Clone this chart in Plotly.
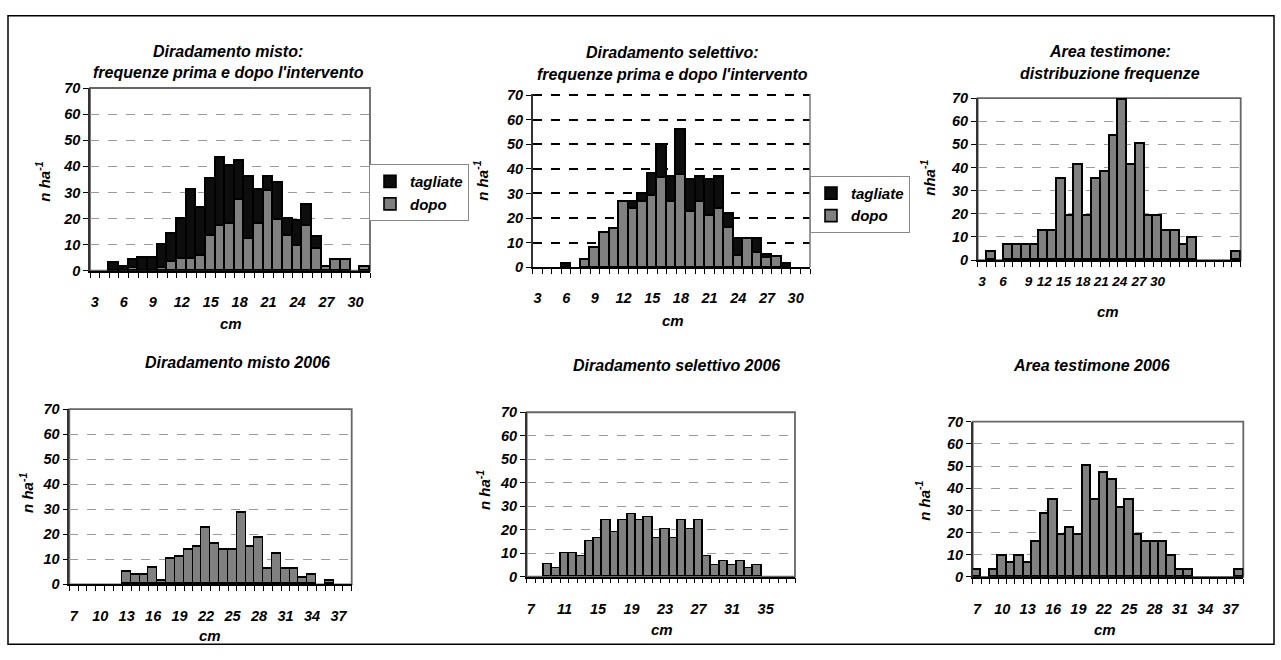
import plotly.graph_objects as go

W, H = 1281, 660

# ---------------- data ----------------
p1_classes = list(range(3, 32))
p1_dopo = [0, 0, 0, 0, 1, 0, 0, 1, 3.5, 4.5, 4.5, 5.5, 13.5, 17, 18, 27, 12, 18, 30.5,
           19.5, 13.5, 9.5, 17, 8.5, 1.5, 4, 4, 0, 1.5]
p1_tagliate = [0, 0, 3, 1.5, 3, 5, 5, 9, 10.5, 15.5, 26.5, 18.5, 21.5, 26, 22, 15, 24, 13,
               5.5, 14, 6.5, 9.5, 8, 4.5, 0, 0, 0, 0, 0]

p2_classes = list(range(3, 32))
p2_dopo = [0, 0, 0, 0, 0, 2.9, 7.8, 13.9, 15.5, 26.7, 24, 26.5, 29, 36.4, 26.5, 37.7, 22.5,
           26.5, 21, 24, 16.3, 4.9, 11.5, 6, 3.7, 4.2, 0, 0, 0]
p2_tagliate = [0, 0, 0, 1.6, 0, 0, 0, 0, 0, 0, 2.7, 3.5, 9.2, 13.5, 10.4, 18.3, 13.3, 10.4,
               14.8, 12.9, 5.5, 6.6, 0, 5.5, 1.6, 0, 1.6, 0, 0]

p3_classes = list(range(3, 33))
p3_values = [0, 3.4, 0, 6.3, 6.3, 6.3, 6.3, 12.7, 12.7, 34.9, 19, 41.2, 19, 34.9, 38, 53.4,
             69, 41.2, 50.3, 19, 19, 12.7, 12.7, 6.5, 9.6, 0, 0, 0, 0, 3.4]
p3_ticklabels = ["3", "6", "9", "12", "15", "18", "21", "24", "27", "30"]

p4_classes = list(range(7, 39))
p4_values = [0, 0, 0, 0, 0, 0, 4.8, 3.8, 3.8, 6.4, 1.4, 10, 11, 13.6, 14.8, 22.3, 16.1, 13.6,
             13.6, 28.6, 14.8, 18.4, 6, 12.3, 6, 6, 2.5, 3.8, 0, 1.4, 0, 0]

p5_classes = list(range(7, 39))
p5_values = [0, 0, 5.1, 3.7, 10, 10, 8.6, 15.1, 16.4, 24, 19, 24, 26.6, 24, 25.2, 16.4, 20.2,
             16.4, 24, 20.2, 24, 8.7, 5, 6.4, 5, 6.4, 3.7, 5, 0, 0, 0, 0]

p6_classes = list(range(7, 39))
p6_values = [3.4, 0, 3.4, 9.5, 6.3, 9.5, 6.3, 15.7, 28.5, 34.7, 19.2, 22.3, 19.2, 50, 34.7,
             47.1, 44, 31.3, 34.7, 19.2, 16, 16, 16, 9.5, 3.4, 3.4, 0, 0, 0, 0, 0, 3.4]

titles = [
    ["Diradamento misto:", "frequenze prima e dopo l'intervento"],
    ["Diradamento selettivo:", "frequenze prima e dopo l'intervento"],
    ["Area testimone:", "distribuzione frequenze"],
    ["Diradamento misto 2006"],
    ["Diradamento selettivo 2006"],
    ["Area testimone 2006"],
]
ytitles = ["n ha<sup>-1</sup>", "n ha<sup>-1</sup>", "nha<sup>-1</sup>",
           "n ha<sup>-1</sup>", "n ha<sup>-1</sup>", "n ha<sup>-1</sup>"]
xtitle = "cm"

# ---------------- style ----------------
FAM = "Liberation Sans, Arial, sans-serif"
GRAY = "#808080"
BLACK = "#0d0d0d"


def fnt(size, color="black"):
    return dict(family=FAM, size=size, color=color, weight="bold", style="italic")


def fx(p):
    return p / W


def fy(p):
    return 1 - p / H


def nz(vals):
    # empty classes are simply not drawn
    return [v if v else None for v in vals]


# panel pixel boxes: (left, right, top, bottom)
boxes = [
    (90, 370, 82, 269.3),
    (532.7, 810, 87.8, 265.7),
    (977.7, 1240.7, 92.3, 258.3),
    (69.3, 351.7, 411, 590.7),
    (526.7, 795, 414.3, 582.7),
    (972.7, 1243.3, 424, 583),
]
yranges = [[0, 70], [0, 70.6], [0, 70], [0, 70], [0, 70], [0, 70]]

classes_all = [p1_classes, p2_classes, p3_classes, p4_classes, p5_classes, p6_classes]

tickvals_all = [
    list(range(3, 31, 3)),
    list(range(3, 31, 3)),
    [3, 5.4, 8.3, 10.1, 12.3, 14.5, 16.6, 18.7, 20.9, 23.0],
    list(range(7, 38, 3)),
    list(range(7, 36, 4)),
    list(range(7, 38, 3)),
]
ticktext_all = [
    [str(v) for v in range(3, 31, 3)],
    [str(v) for v in range(3, 31, 3)],
    p3_ticklabels,
    [str(v) for v in range(7, 38, 3)],
    [str(v) for v in range(7, 36, 4)],
    [str(v) for v in range(7, 38, 3)],
]
tickstandoff = [17, 17, 8, 17, 18, 18]
xtick_size = [14.5, 14.5, 13.5, 14.5, 14.5, 14.5]

fig = go.Figure()

bar_line = dict(color="black", width=1.6)

# panel 1 stacked
fig.add_trace(go.Bar(x=p1_classes, y=nz(p1_dopo), name="dopo", marker=dict(color=GRAY, line=bar_line),
                     width=1, xaxis="x", yaxis="y", legend="legend"))
fig.add_trace(go.Bar(x=p1_classes, y=nz(p1_tagliate), name="tagliate", marker=dict(color=BLACK, line=bar_line),
                     width=1, xaxis="x", yaxis="y", legend="legend"))
# panel 2 stacked
fig.add_trace(go.Bar(x=p2_classes, y=nz(p2_dopo), name="dopo", marker=dict(color=GRAY, line=bar_line),
                     width=1, xaxis="x2", yaxis="y2", legend="legend2"))
fig.add_trace(go.Bar(x=p2_classes, y=nz(p2_tagliate), name="tagliate", marker=dict(color=BLACK, line=bar_line),
                     width=1, xaxis="x2", yaxis="y2", legend="legend2"))
# single-series panels
for i, (cls, vals) in enumerate([(p3_classes, p3_values), (p4_classes, p4_values),
                                 (p5_classes, p5_values), (p6_classes, p6_values)], start=3):
    fig.add_trace(go.Bar(x=cls, y=nz(vals), marker=dict(color=GRAY, line=bar_line), width=1,
                         xaxis=f"x{i}", yaxis=f"y{i}", showlegend=False))

layout = dict(
    width=W, height=H, margin=dict(l=0, r=0, t=0, b=0),
    paper_bgcolor="white", plot_bgcolor="white",
    barmode="stack", bargap=0,
    showlegend=True,
    legend=dict(x=fx(369), y=fy(160), xanchor="left", yanchor="top",
                bgcolor="white", bordercolor="#888", borderwidth=1,
                font=fnt(15), traceorder="reversed", itemwidth=30,
                tracegroupgap=0),
    legend2=dict(x=fx(810), y=fy(172), xanchor="left", yanchor="top",
                 bgcolor="white", bordercolor="#888", borderwidth=1,
                 font=fnt(15), traceorder="reversed", itemwidth=30,
                 tracegroupgap=0),
)

annotations = []
shapes = []

title_y = [[45, 66], [46, 68], [45, 67], [363], [366], [366]]
title_x = [228, 672, 1110, 237, 676, 1091]
ytitle_pos = [(43, 178), (481, 177), (928, 174), (27, 497), (483, 494), (923, 505)]
xtitle_pos = [(231, 323), (673, 320), (1108, 311), (210, 643), (662, 637), (1105, 637)]

for i in range(6):
    k = "" if i == 0 else str(i + 1)
    l, r, t, b = boxes[i]
    cls = classes_all[i]
    dash_grid = (i == 1)
    layout[f"xaxis{k}"] = dict(
        domain=[fx(l), fx(r)], anchor=f"y{k}",
        range=[cls[0] - 0.5, cls[-1] + 0.5],
        tickmode="array", tickvals=tickvals_all[i], ticktext=ticktext_all[i],
        ticks="", tickfont=fnt(xtick_size[i]), ticklabelstandoff=tickstandoff[i],
        tickangle=0,
        showgrid=False, zeroline=False,
        showline=True, linecolor="black", linewidth=1.5,
        minor=dict(tickmode="linear", tick0=cls[0] - 0.5, dtick=1, ticks="outside",
                   ticklen=5, tickwidth=1, tickcolor="black", showgrid=False),
        fixedrange=True,
    )
    layout[f"yaxis{k}"] = dict(
        domain=[fy(b), fy(t)], anchor=f"x{k}",
        range=yranges[i], tickmode="array", tickvals=list(range(0, 71, 10)),
        ticktext=[str(v) for v in range(0, 71, 10)],
        ticks="outside", ticklen=5, tickcolor="black", tickwidth=1,
        tickfont=fnt(14.5),
        showgrid=True,
        gridcolor="black" if dash_grid else "#9a9a9a",
        gridwidth=2.2 if dash_grid else 1.3,
        griddash="dash",
        zeroline=False,
        showline=True, linecolor="#333", linewidth=1.5,
        fixedrange=True,
    )
    # plot frame (gray), panel 2 has only right side
    if i == 1:
        shapes.append(dict(type="line", xref=f"x{k} domain", yref=f"y{k} domain",
                           x0=1, x1=1, y0=0, y1=1, line=dict(color="#777", width=1.5)))
    else:
        shapes.append(dict(type="rect", xref=f"x{k} domain", yref=f"y{k} domain",
                           x0=0, x1=1, y0=0, y1=1, layer="below",
                           line=dict(color="#666", width=1.8)))
    # titles
    for line_txt, ty in zip(titles[i], title_y[i]):
        annotations.append(dict(text=line_txt, xref="paper", yref="paper",
                                x=fx(title_x[i]), y=fy(ty), xanchor="center", yanchor="middle",
                                showarrow=False, font=fnt(16)))
    # y title
    yx, yy = ytitle_pos[i]
    annotations.append(dict(text=ytitles[i], xref="paper", yref="paper",
                            x=fx(yx), y=fy(yy), xanchor="center", yanchor="middle",
                            textangle=-90, showarrow=False, font=fnt(15)))
    # x title
    xx, xy = xtitle_pos[i]
    annotations.append(dict(text=xtitle, xref="paper", yref="paper",
                            x=fx(xx), y=fy(xy), xanchor="center", yanchor="middle",
                            showarrow=False, font=fnt(15)))

# outer border of the whole figure
shapes.append(dict(type="rect", xref="paper", yref="paper",
                   x0=fx(8), x1=fx(1274), y0=fy(652), y1=fy(8),
                   line=dict(color="black", width=1.5)))

layout["annotations"] = annotations
layout["shapes"] = shapes
fig.update_layout(**layout)

fig.write_html("out.html")
